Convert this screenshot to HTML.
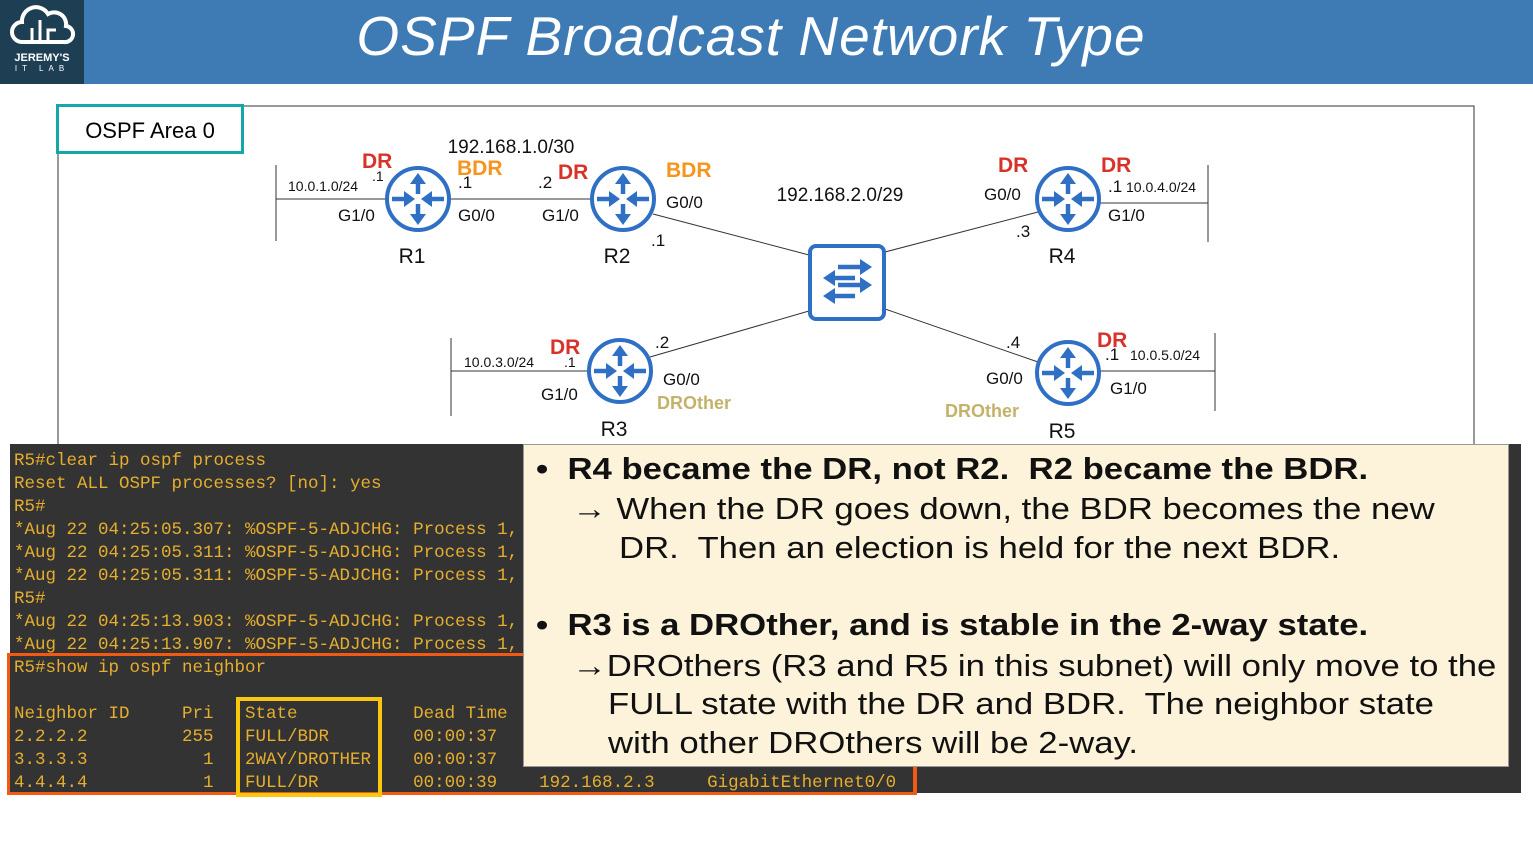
<!DOCTYPE html>
<html><head><meta charset="utf-8"><style>
body{margin:0;width:1533px;height:862px;overflow:hidden;background:#fff;font-family:"Liberation Sans",sans-serif;position:relative}
.hdr{position:absolute;left:0;top:0;width:1533px;height:84px;background:#3e7bb5}
.logo{position:absolute;left:0;top:0;width:84px;height:84px;background:#1d3e53;color:#fff;text-align:center}
.title{position:absolute;left:0;top:4px;width:1502px;text-align:center;color:#fff;font-size:55px;font-style:italic;letter-spacing:1px}
.term{position:absolute;left:10px;top:444px;width:1511px;height:349px;background:#333;}
.tl{position:absolute;left:4px;font-family:"Liberation Mono",monospace;font-size:17.5px;color:#e6ae2e;white-space:pre;line-height:23px}
.note{position:absolute;left:523px;top:444px;width:986px;height:323px;background:#fdf3da;border:1px solid #999;box-sizing:border-box;color:#111}
.note div{position:absolute;white-space:nowrap;transform:scaleX(1.12);transform-origin:0 0}
</style></head><body>
<div class="hdr"></div>
<div class="logo">
<svg width="84" height="50" viewBox="0 0 84 50"><path d="M22 42 a10 10 0 0 1 0-20 a14 14 0 0 1 26-8 a12 12 0 0 1 18 12 a8 8 0 0 1-2 16 z" fill="none" stroke="#fff" stroke-width="4"/><path d="M32 42V28M40 42V20M48 42V30h8" stroke="#fff" stroke-width="3" fill="none"/></svg>
<div style="font-size:11px;font-weight:bold;line-height:11px;margin-top:-2px">JEREMY'S</div>
<div style="font-size:8px;letter-spacing:5px;line-height:9px">IT LAB</div>
</div>
<div class="title">OSPF Broadcast Network Type</div>

<svg width="1533" height="862" style="position:absolute;left:0;top:0">
<defs><g id="rt">
<circle r="31" fill="#fff" stroke="#2f6fc4" stroke-width="4"/>
<g stroke="#2f6fc4" stroke-width="4.5" fill="#2f6fc4">
<line x1="0" y1="-5" x2="0" y2="-17"/><polygon points="-8,-15 0,-26 8,-15" stroke="none"/>
<line x1="0" y1="5" x2="0" y2="17"/><polygon points="-8,15 0,26 8,15" stroke="none"/>
<line x1="-26" y1="0" x2="-13" y2="0"/><polygon points="-14,-8 -3,0 -14,8" stroke="none"/>
<line x1="26" y1="0" x2="13" y2="0"/><polygon points="14,-8 3,0 14,8" stroke="none"/>
</g></g></defs>
<g stroke="#333" stroke-width="1" fill="none">
<polyline points="243,106 1474,106 1474,444"/>
<line x1="58" y1="153" x2="58" y2="444"/>
<line x1="276" y1="199" x2="388" y2="199"/><line x1="276" y1="165" x2="276" y2="241"/>
<line x1="450" y1="199" x2="592" y2="199"/>
<line x1="653" y1="214" x2="809" y2="255"/>
<line x1="1038" y1="212" x2="885" y2="252"/>
<line x1="650" y1="357" x2="809" y2="311"/>
<line x1="1038" y1="362" x2="885" y2="309"/>
<line x1="1098" y1="203" x2="1208" y2="203"/><line x1="1208" y1="165" x2="1208" y2="242"/>
<line x1="451" y1="371" x2="590" y2="371"/><line x1="451" y1="338" x2="451" y2="416"/>
<line x1="1098" y1="371" x2="1215" y2="371"/><line x1="1215" y1="333" x2="1215" y2="411"/>
</g>
<use href="#rt" x="418" y="199"/><use href="#rt" x="623" y="199"/><use href="#rt" x="1068" y="199"/>
<use href="#rt" x="620" y="371"/><use href="#rt" x="1068" y="373"/>
<rect x="810" y="246" width="74" height="73" rx="6" fill="#fff" stroke="#2f6fc4" stroke-width="4"/>
<g stroke="#2f6fc4" stroke-width="4.5" fill="#2f6fc4">
<line x1="838" y1="267" x2="864" y2="267"/><polygon points="860,259 872,267 860,275" stroke="none"/>
<line x1="830" y1="278" x2="855" y2="278"/><polygon points="835,270 823,278 835,286" stroke="none"/>
<line x1="838" y1="285" x2="864" y2="285"/><polygon points="860,277 872,285 860,293" stroke="none"/>
<line x1="830" y1="296" x2="855" y2="296"/><polygon points="835,288 823,296 835,304" stroke="none"/>
</g>
<g font-family="Liberation Sans,sans-serif" fill="#111">
<text x="511" y="153" font-size="19" text-anchor="middle">192.168.1.0/30</text>
<text x="840" y="201" font-size="19" text-anchor="middle">192.168.2.0/29</text>
<g font-size="21" text-anchor="middle"><text x="412" y="263">R1</text><text x="617" y="263">R2</text><text x="1062" y="263">R4</text><text x="614" y="436">R3</text><text x="1062" y="438">R5</text></g>
<g font-size="17">
<text x="338" y="221">G1/0</text><text x="458" y="221">G0/0</text><text x="542" y="221">G1/0</text><text x="666" y="208">G0/0</text>
<text x="984" y="200">G0/0</text><text x="1108" y="221">G1/0</text>
<text x="541" y="400">G1/0</text><text x="663" y="385">G0/0</text>
<text x="986" y="384">G0/0</text><text x="1110" y="394">G1/0</text>
<text x="458" y="188">.1</text><text x="538" y="188">.2</text><text x="651" y="246">.1</text>
<text x="1016" y="237">.3</text><text x="1108" y="192">.1</text>
<text x="655" y="348">.2</text><text x="1006" y="348">.4</text><text x="1105" y="360">.1</text>
</g>
<g font-size="14"><text x="288" y="191">10.0.1.0/24</text><text x="372" y="181">.1</text>
<text x="1126" y="192">10.0.4.0/24</text><text x="464" y="367">10.0.3.0/24</text><text x="564" y="367">.1</text><text x="1130" y="360">10.0.5.0/24</text></g>
<g font-size="21" font-weight="bold">
<text x="362" y="168" fill="#d7332a">DR</text><text x="457" y="175" fill="#f7941d">BDR</text><text x="558" y="179" fill="#d7332a">DR</text><text x="666" y="177" fill="#f7941d">BDR</text>
<text x="998" y="172" fill="#d7332a">DR</text><text x="1101" y="172" fill="#d7332a">DR</text>
<text x="550" y="354" fill="#d7332a">DR</text><text x="1097" y="347" fill="#d7332a">DR</text>
</g>
<g font-size="18" font-weight="bold" fill="#c3b36a"><text x="657" y="409">DROther</text><text x="945" y="417">DROther</text></g>
</g>
</svg>
<div style="position:absolute;left:56px;top:104px;width:182px;height:44px;border:3px solid #16a5a8;background:#fff;font-size:22px;line-height:48px;text-align:center">OSPF Area 0</div>

<div class="term">
<div class="tl" style="top:6px">R5#clear ip ospf process
Reset ALL OSPF processes? [no]: yes
R5#
*Aug 22 04:25:05.307: %OSPF-5-ADJCHG: Process 1,
*Aug 22 04:25:05.311: %OSPF-5-ADJCHG: Process 1,
*Aug 22 04:25:05.311: %OSPF-5-ADJCHG: Process 1,
R5#
*Aug 22 04:25:13.903: %OSPF-5-ADJCHG: Process 1,
*Aug 22 04:25:13.907: %OSPF-5-ADJCHG: Process 1,
R5#show ip ospf neighbor

Neighbor ID     Pri   State           Dead Time
2.2.2.2         255   FULL/BDR        00:00:37
3.3.3.3           1   2WAY/DROTHER    00:00:37
4.4.4.4           1   FULL/DR         00:00:39    192.168.2.3     GigabitEthernet0/0</div>
</div>
<div style="position:absolute;left:7px;top:653px;width:903px;height:136px;border:3px solid #f25a13;border-right-width:4px"></div>
<div style="position:absolute;left:236px;top:697px;width:138px;height:92px;border:4px solid #f9c80e"></div>

<div class="note">
<div style="left:12px;top:6px;font-size:31px;font-weight:bold">•&nbsp; R4 became the DR, not R2.&nbsp; R2 became the BDR.</div>
<div style="left:48px;top:46px;font-size:31px">→ When the DR goes down, the BDR becomes the new</div>
<div style="left:95px;top:85px;font-size:31px">DR.&nbsp; Then an election is held for the next BDR.</div>
<div style="left:12px;top:162px;font-size:31px;font-weight:bold">•&nbsp; R3 is a DROther, and is stable in the 2-way state.</div>
<div style="left:48px;top:203px;font-size:31px">→DROthers (R3 and R5 in this subnet) will only move to the</div>
<div style="left:84px;top:241px;font-size:31px">FULL state with the DR and BDR.&nbsp; The neighbor state</div>
<div style="left:84px;top:280px;font-size:31px">with other DROthers will be 2-way.</div>
</div>
</body></html>
